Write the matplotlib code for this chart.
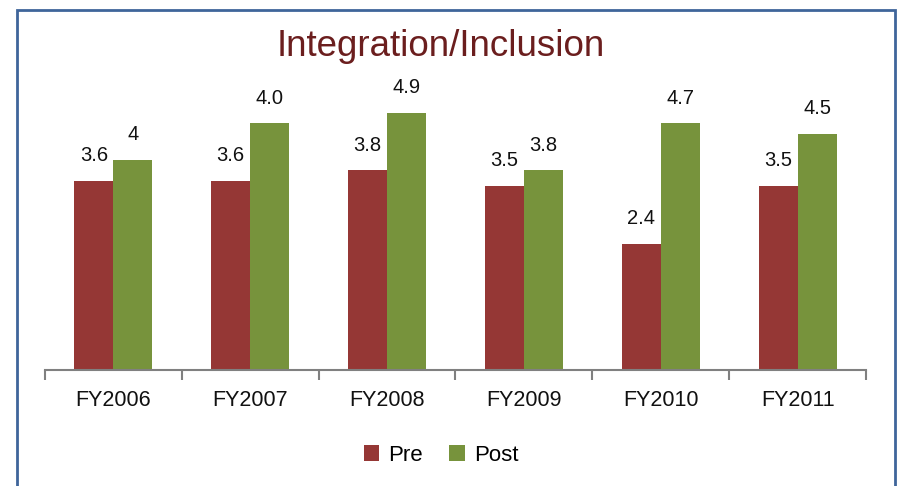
import matplotlib
matplotlib.use("Agg")
import matplotlib.pyplot as plt
from matplotlib.patches import Rectangle
import numpy as np

categories = ["FY2006", "FY2007", "FY2008", "FY2009", "FY2010", "FY2011"]
pre_values = [3.6, 3.6, 3.8, 3.5, 2.4, 3.5]
post_values = [4.0, 4.7, 4.9, 3.8, 4.7, 4.5]
pre_labels = ["3.6", "3.6", "3.8", "3.5", "2.4", "3.5"]
post_labels = ["4", "4.0", "4.9", "3.8", "4.7", "4.5"]

plt.rcParams['font.family'] = ["Liberation Sans", 'DejaVu Sans']

W, H = 899, 486
fig = plt.figure(figsize=(W / 100, H / 100), dpi=100)
fig.patch.set_facecolor("white")

# frame
fig.patches.append(Rectangle((17 / W, -0.1), (895 - 17) / W, (H - 10) / H + 0.1,
                             transform=fig.transFigure, fill=False,
                             edgecolor="#3F659A", linewidth=2.0))

ax = fig.add_axes([45 / W, (H - 370) / H, (866 - 45) / W, 262.5 / H])
x = np.arange(len(categories))
bw = 0.285
pre_c = "#953735"
post_c = "#77933C"
ax.bar(x - bw / 2, pre_values, bw, color=pre_c, label="Pre")
ax.bar(x + bw / 2, post_values, bw, color=post_c, label="Post")
ax.set_xlim(-0.5, len(categories) - 0.5)
ax.set_ylim(0, 5)

for xi, v, t in zip(x, pre_values, pre_labels):
    ax.text(xi - bw / 2, v + 0.3, t, ha="center", va="bottom", fontsize=14.5,
            color="#111111", clip_on=False)
for xi, v, t in zip(x, post_values, post_labels):
    ax.text(xi + bw / 2, v + 0.3, t, ha="center", va="bottom", fontsize=14.5,
            color="#111111", clip_on=False)

for s in ["top", "right", "left"]:
    ax.spines[s].set_visible(False)
ax.spines["bottom"].set_color("#808080")
ax.spines["bottom"].set_linewidth(1.5)
ax.set_yticks([])
ax.set_xticks(x)
ax.set_xticklabels(categories, fontsize=15.5, color="#111111")
ax.tick_params(axis="x", which="major", length=0, pad=14.5)
ax.set_xticks(np.arange(-0.5, len(categories), 1.0), minor=True)
ax.tick_params(axis="x", which="minor", length=7, width=1.5, color="#808080")

fig.text(441 / W, 1 - 46 / H, "Integration/Inclusion", ha="center", va="center",
         fontsize=26.5, color="#6B1E1E")

leg = fig.legend(loc="center", bbox_to_anchor=(441 / W, 1 - 455 / H), ncol=2,
                 frameon=False, fontsize=16, handlelength=0.7, handleheight=0.7,
                 handletextpad=0.4, columnspacing=1.2)

fig.savefig("out.png", dpi=100)
